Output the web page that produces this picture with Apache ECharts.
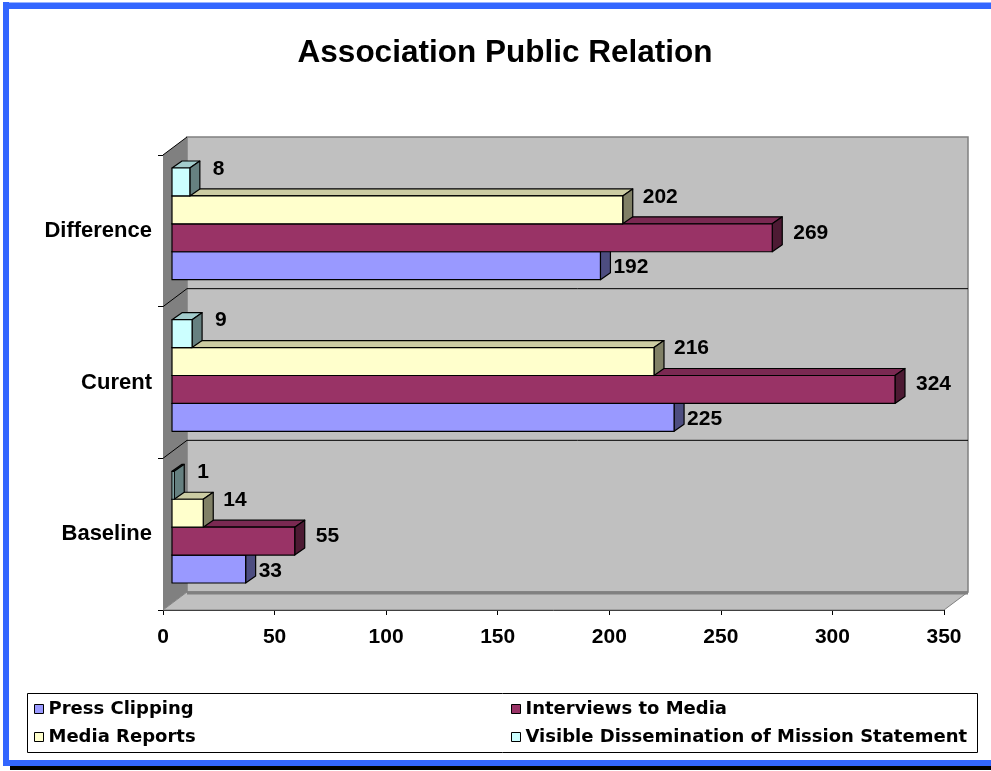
<!DOCTYPE html>
<html>
<head>
<meta charset="utf-8">
<script src="https://cdn.jsdelivr.net/npm/echarts@6/dist/echarts.min.js"></script>
<style>html,body{margin:0;padding:0;background:#fff;}#chart{width:991px;height:771px;}</style>
</head>
<body>
<div id="chart"></div>
<script>
// ---- data ----
const categories = ['Baseline', 'Curent', 'Difference'];
const pressClipping = [33, 225, 192];
const interviewsToMedia = [55, 324, 269];
const mediaReports = [14, 216, 202];
const visibleDissemination = [1, 9, 8];
const seriesNames = ['Press Clipping', 'Interviews to Media', 'Media Reports', 'Visible Dissemination of Mission Statement'];
const seriesValues = [pressClipping, interviewsToMedia, mediaReports, visibleDissemination];
const xMin = 0, xMax = 350, xInterval = 50;

// ---- styles ----
const frontColors = ['#9999FF', '#993366', '#FFFFCC', '#CCFFFF'];
const topColors = ['#7A7ACC', '#7A2952', '#CCCCA3', '#A3CCCC'];
const sideColors = ['#4D4D80', '#4D1A33', '#808066', '#668080'];
const labelDx = [3, 11, 10, 13];
const labelDy = [2, -5, -13, -13];
const WALL = [24, -18];      // depth of the 3D box
const BAR_OFF = [9, -7];     // front face of bars inside the box
const BAR_DEPTH = [10, -7];  // depth of each bar
const BAR_FRAC = 0.184;      // bar thickness as a fraction of a band
const FONT = 'Liberation Sans, Arial, sans-serif';

function shadeWalls(params, api) {
  const cs = params.coordSys;
  const x0 = cs.x, y0 = cs.y, x1 = cs.x + cs.width, y1 = cs.y + cs.height;
  const dx = WALL[0], dy = WALL[1];
  const band = api.size([0, 1])[1];
  const n = categories.length;
  const children = [
    {type: 'rect', shape: {x: x0 + dx, y: y0 + dy, width: cs.width, height: cs.height},
     style: {fill: '#C0C0C0', stroke: '#808080', lineWidth: 1.5}},
    {type: 'polygon', shape: {points: [[x0, y0], [x0 + dx, y0 + dy], [x0 + dx, y1 + dy], [x0, y1]]},
     style: {fill: '#808080', stroke: null}},
    {type: 'polygon', shape: {points: [[x0, y1], [x0 + dx, y1 + dy], [x1 + dx, y1 + dy], [x1, y1]]},
     style: {fill: '#C0C0C0', stroke: '#808080', lineWidth: 1}},
    {type: 'line', shape: {x1: x0 + dx, y1: y1 + dy + 1, x2: x1 + dx, y2: y1 + dy + 1},
     style: {stroke: '#808080', lineWidth: 3}},
    {type: 'line', shape: {x1: x0, y1: y0, x2: x0 + dx, y2: y0 + dy},
     style: {stroke: '#000', lineWidth: 1}}
  ];
  for (let i = 1; i < n; i++) {
    const yb = y1 - i * band;
    children.push({type: 'polyline', shape: {points: [[x0, yb], [x0 + dx, yb + dy], [x1 + dx, yb + dy]]},
      style: {stroke: '#000', lineWidth: 1, fill: null}});
  }
  return {type: 'group', children: children};
}

function makeBarRenderer(k) {
  return function (params, api) {
    const val = api.value(0), cat = api.value(1);
    const p0 = api.coord([0, cat]);
    const p1 = api.coord([val, cat]);
    const band = api.size([0, 1])[1];
    const h = band * BAR_FRAC;
    const cy = p0[1];
    const yBot = cy + 2 * h - k * h + BAR_OFF[1];
    const yTop = yBot - h;
    const xL = p0[0] + BAR_OFF[0];
    const xR = p1[0] + BAR_OFF[0];
    const bdx = BAR_DEPTH[0], bdy = BAR_DEPTH[1];
    const line = {stroke: '#000', lineWidth: 1.2, lineJoin: 'round'};
    return {
      type: 'group',
      children: [
        {type: 'polygon', shape: {points: [[xL, yTop], [xL + bdx, yTop + bdy], [xR + bdx, yTop + bdy], [xR, yTop]]},
         style: Object.assign({fill: topColors[k]}, line)},
        {type: 'polygon', shape: {points: [[xR, yTop], [xR + bdx, yTop + bdy], [xR + bdx, yBot + bdy], [xR, yBot]]},
         style: Object.assign({fill: sideColors[k]}, line)},
        {type: 'rect', shape: {x: xL, y: yTop, width: xR - xL, height: h},
         style: Object.assign({fill: frontColors[k]}, line)},
        {type: 'text', z2: 100,
         style: {x: xR + bdx + labelDx[k], y: (yTop + yBot) / 2 + labelDy[k], text: String(val),
                 fill: '#000', font: 'bold 21px ' + FONT, align: 'left', verticalAlign: 'middle'}}
      ]
    };
  };
}

const series = [{
  type: 'custom', name: 'walls', silent: true, z: 1,
  renderItem: shadeWalls, data: [[0, 0]], encode: {x: 0, y: 1}
}];
seriesValues.forEach(function (vals, k) {
  series.push({
    type: 'custom', name: seriesNames[k], z: 2,
    itemStyle: {color: frontColors[k], borderColor: '#000', borderWidth: 1},
    renderItem: makeBarRenderer(k),
    encode: {x: 0, y: 1},
    data: vals.map(function (v, i) { return [v, i]; })
  });
});

const legendCommon = {
  orient: 'vertical', icon: 'rect', itemWidth: 9, itemHeight: 9, itemGap: 10,
  padding: 0, selectedMode: false,
  itemStyle: {borderColor: '#000', borderWidth: 1},
  textStyle: {fontFamily: 'DejaVu Sans, sans-serif', fontWeight: 'bold', fontSize: 18, color: '#000'},
  z: 10
};

const chart = echarts.init(document.getElementById('chart'), null, {renderer: 'canvas'});
chart.setOption({
  animation: false,
  backgroundColor: '#fff',
  title: {
    text: 'Association Public Relation', left: 500, top: 32, textAlign: 'center',
    textStyle: {fontFamily: FONT, fontWeight: 'bold', fontSize: 31.5, color: '#000'}
  },
  grid: {left: 163, right: 47, top: 155, bottom: 161, containLabel: false},
  xAxis: {
    type: 'value', min: xMin, max: xMax, interval: xInterval,
    axisLine: {show: true, lineStyle: {color: '#000', width: 1}},
    axisTick: {show: true, length: 5, lineStyle: {color: '#000'}},
    axisLabel: {margin: 17, color: '#000', fontFamily: FONT, fontWeight: 'bold', fontSize: 21},
    splitLine: {show: false}
  },
  yAxis: {
    type: 'category', data: categories,
    axisLine: {show: true, lineStyle: {color: '#000', width: 1}},
    axisTick: {show: true, length: 5, lineStyle: {color: '#000'}},
    axisLabel: {margin: 11, color: '#000', fontFamily: FONT, fontWeight: 'bold', fontSize: 22},
    splitLine: {show: false}
  },
  legend: [
    Object.assign({}, legendCommon, {left: 34, top: 700, data: [seriesNames[0], seriesNames[2]]}),
    Object.assign({}, legendCommon, {left: 511, top: 700, data: [seriesNames[1], seriesNames[3]]})
  ],
  graphic: [
    {type: 'rect', z: 5, shape: {x: 27.5, y: 693.5, width: 950, height: 59},
     style: {fill: '#fff', stroke: '#000', lineWidth: 1}},
    {type: 'rect', z: 5, shape: {x: 10, y: 765, width: 981, height: 5}, style: {fill: '#000'}},
    {type: 'rect', z: 6, shape: {x: 3, y: 2, width: 988, height: 7}, style: {fill: '#3366FF'}},
    {type: 'rect', z: 6, shape: {x: 3, y: 2, width: 988, height: 1}, style: {fill: '#99B3FF'}},
    {type: 'rect', z: 6, shape: {x: 3, y: 2, width: 6, height: 764}, style: {fill: '#3366FF'}},
    {type: 'rect', z: 6, shape: {x: 3, y: 760, width: 988, height: 6}, style: {fill: '#3366FF'}}
  ],
  series: series
});
</script>
</body>
</html>
